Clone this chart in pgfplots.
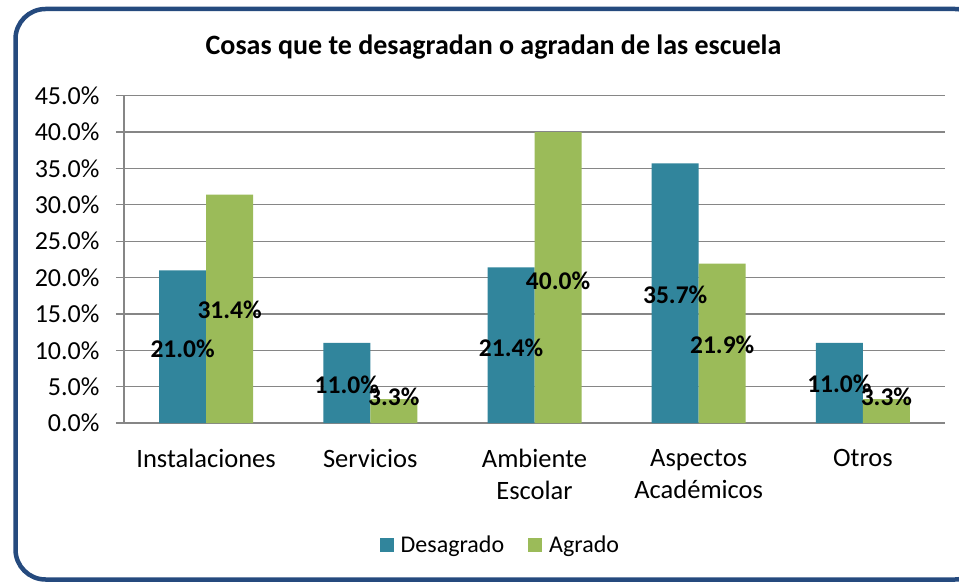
\documentclass[border=0pt]{standalone}
\usepackage{pgfplots}
\pgfplotsset{compat=1.18}
\usepackage{fontspec}
\setmainfont{Carlito}
\definecolor{desag}{RGB}{49,133,156}
\definecolor{agr}{RGB}{155,187,89}
\definecolor{frameblue}{RGB}{37,74,126}
\definecolor{gridgray}{RGB}{134,134,134}
\begin{document}
\begin{tikzpicture}[x=1pt,y=1pt]
\useasboundingbox (0,0) rectangle (959,582);
\begin{scope}
\clip (0,0) rectangle (959,582);
\fill[white] (0,0) rectangle (959,582);
\draw[frameblue, line width=4.5pt, rounded corners=30pt] (15.5,2.5) rectangle (985,573);
\end{scope}
\node[anchor=base, font=\fontsize{28}{32}\selectfont\bfseries] at (493.5,527) {Cosas que te desagradan o agradan de las escuela};
\begin{axis}[
  at={(124pt,159pt)}, anchor=south west,
  scale only axis, width=821pt, height=327.3pt,
  xmin=-0.5, xmax=4.5, ymin=0, ymax=45,
  axis lines*=left,
  axis line style={gridgray, line width=1.3pt},
  xtick={0,...,4},
  xticklabels={Instalaciones, Servicios, {Ambiente\\Escolar}, {Aspectos\\Académicos}, Otros},
  xtick style={draw=none},
  xticklabel style={font=\fontsize{26.5}{32}\selectfont, align=center, anchor=north, yshift=-15pt},
  ytick={0,5,...,45},
  ytick style={gridgray, line width=1.3pt},
  tick align=outside,
  major tick length=8pt,
  yticklabel={\pgfmathprintnumber[fixed,fixed zerofill,precision=1,assume math mode=true]{\tick}\%},
  yticklabel style={font=\fontsize{26}{30}\selectfont, xshift=-13pt},
  ymajorgrids,
  grid style={gridgray, line width=1.3pt},
  legend columns=2,
  legend style={draw=none, fill=none, font=\fontsize{24}{28}\selectfont,
    at={(axis description cs:0.4584,-0.372)}, anchor=center,
    /tikz/every even column/.append style={column sep=22pt}},
  legend cell align=left,
]
\addplot[ybar, bar width=47pt, bar shift=-23.5pt, fill=desag, draw=none,
  legend image code/.code={\fill[desag] (0pt,-7pt) rectangle (14pt,7pt); \path (19pt,0pt);}]
  coordinates {(0,21.0) (1,11.0) (2,21.4) (3,35.7) (4,11.0)};
\addlegendentry{Desagrado}
\addplot[ybar, bar width=47pt, bar shift=23.5pt, fill=agr, draw=none,
  legend image code/.code={\fill[agr] (0pt,-7pt) rectangle (14pt,7pt); \path (19pt,0pt);}]
  coordinates {(0,31.4) (1,3.3) (2,40.0) (3,21.9) (4,3.3)};
\addlegendentry{Agrado}
\addplot[draw=none, mark=none, forget plot, point meta=explicit,
  nodes near coords={\pgfmathprintnumber[fixed,fixed zerofill,precision=1,assume math mode=true]{\pgfplotspointmeta}\%},
  nodes near coords style={font=\fontsize{25.5}{28}\selectfont\bfseries, anchor=center, xshift=-23.5pt, inner sep=0pt}]
  table[x=x, y=y, meta=m] {
x y m
0 10.2 21.0
1 5.3 11.0
2 10.4 21.4
3 17.6 35.7
4 5.4 11.0
};
\addplot[draw=none, mark=none, forget plot, point meta=explicit,
  nodes near coords={\pgfmathprintnumber[fixed,fixed zerofill,precision=1,assume math mode=true]{\pgfplotspointmeta}\%},
  nodes near coords style={font=\fontsize{25.5}{28}\selectfont\bfseries, anchor=center, xshift=23.5pt, inner sep=0pt}]
  table[x=x, y=y, meta=m] {
x y m
0 15.6 31.4
1 3.6 3.3
2 19.6 40.0
3 10.8 21.9
4 3.6 3.3
};
\end{axis}
\end{tikzpicture}
\end{document}
